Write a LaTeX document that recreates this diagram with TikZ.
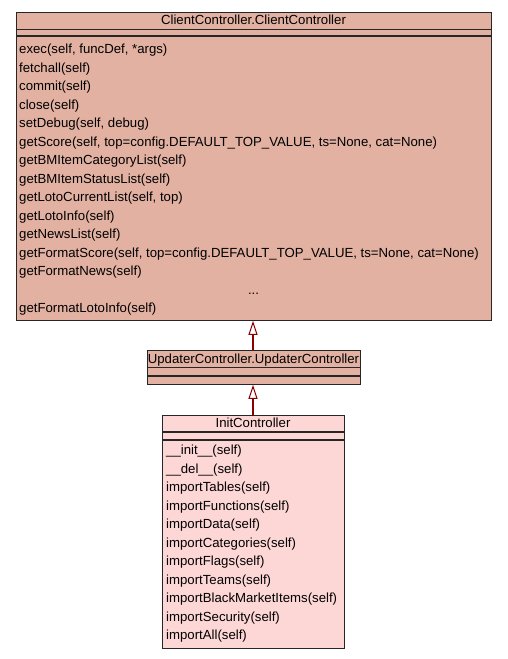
\documentclass[tikz,border=0pt]{standalone}
\usepackage{fontspec}
\setmainfont{Liberation Sans}
\usetikzlibrary{arrows.meta}
\definecolor{parentfill}{RGB}{226,177,162}
\definecolor{childfill}{RGB}{253,214,214}
\definecolor{edgered}{RGB}{139,0,0}
\begin{document}
\begin{tikzpicture}[x=1pt,y=-1pt,
  classbox/.style={draw=black!85, line width=0.9pt, inner sep=0pt, anchor=north west},
  sep/.style={draw=black!85, line width=1.1pt},
  title/.style={font=\fontsize{13.2}{15}\selectfont, inner sep=0pt, anchor=base},
  member/.style={font=\fontsize{13.2}{15}\selectfont, inner sep=0pt, anchor=base west},
  inherit/.style={draw=edgered, line width=2pt, -{Triangle[open, fill=white, length=14pt, width=9pt, line width=1pt]}}]
\useasboundingbox (0,0) rectangle (507,659);

% ClientController.ClientController
\node[classbox, fill=parentfill, minimum width=475pt, minimum height=308pt] (cc) at (16,12) {};
\draw[sep] (16,29.5) -- (491,29.5);
\draw[sep] (16,36) -- (491,36);
\node[title] (cct) at (253.5,24.5) {ClientController.ClientController};
\foreach \y/\t in {53.5/{exec(self, funcDef, *args)},
  72/{fetchall(self)},
  90.5/{commit(self)},
  109/{close(self)},
  127.5/{setDebug(self, debug)},
  146/{getScore(self, top=config.DEFAULT\_TOP\_VALUE, ts=None, cat=None)},
  164.5/{getBMItemCategoryList(self)},
  183/{getBMItemStatusList(self)},
  201.5/{getLotoCurrentList(self, top)},
  220/{getLotoInfo(self)},
  238.5/{getNewsList(self)},
  257/{getFormatScore(self, top=config.DEFAULT\_TOP\_VALUE, ts=None, cat=None)},
  275.5/{getFormatNews(self)},
  312.5/{getFormatLotoInfo(self)}}
  \node[member] at (19,\y) {\t};
\node[title] (ccdots) at (253.5,294) {...};

% UpdaterController.UpdaterController
\node[classbox, fill=parentfill, minimum width=213pt, minimum height=34pt] (uc) at (147,350) {};
\draw[sep] (147,367.5) -- (360,367.5);
\draw[sep] (147,376) -- (360,376);
\node[title] (uct) at (253.5,363) {UpdaterController.UpdaterController};

% InitController
\node[classbox, fill=childfill, minimum width=182pt, minimum height=233pt] (ic) at (162,415) {};
\draw[sep] (162,432) -- (344,432);
\draw[sep] (162,440) -- (344,440);
\node[title] (ict) at (253,427) {InitController};
\foreach \y/\t in {454.5/{\_\_init\_\_(self)},
  473/{\_\_del\_\_(self)},
  491.5/{importTables(self)},
  510/{importFunctions(self)},
  528.5/{importData(self)},
  547/{importCategories(self)},
  565.5/{importFlags(self)},
  584/{importTeams(self)},
  602.5/{importBlackMarketItems(self)},
  621/{importSecurity(self)},
  639.5/{importAll(self)}}
  \node[member] at (166,\y) {\t};

% generalisation arrows
\draw[inherit] (uc.north -| 253,0) -- (cc.south -| 253,0);
\draw[inherit] (ic.north -| 253,0) -- (uc.south -| 253,0);
\end{tikzpicture}
\end{document}
